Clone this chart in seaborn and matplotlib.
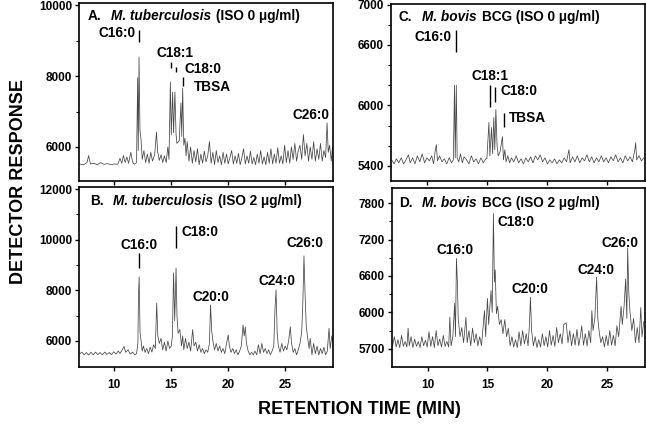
import matplotlib.pyplot as plt
import pandas as pd
import seaborn as sns
from matplotlib.offsetbox import AnchoredOffsetbox, HPacker, TextArea
from matplotlib.ticker import FixedLocator

# chromatogram traces: (retention time [min], detector response)
trace_a = [
    (6.95, 5520), (7.3, 5500), (7.6, 5560), (7.75, 5760), (7.9, 5520), (8.2, 5540), (8.5, 5500),
    (8.8, 5560), (9.1, 5510), (9.4, 5530), (9.7, 5500), (10.0, 5520), (10.3, 5510), (10.5, 5680),
    (10.65, 5540), (10.8, 5760), (10.95, 5560), (11.1, 5720), (11.25, 5540), (11.45, 5850),
    (11.6, 5580), (11.75, 5510), (11.95, 5560), (12.05, 7950), (12.1, 5900), (12.17, 8540),
    (12.25, 6480), (12.35, 6200), (12.45, 5650), (12.6, 5900), (12.75, 5560), (12.9, 5800),
    (13.05, 5540), (13.2, 5850), (13.35, 5600), (13.55, 5800), (13.7, 6420), (13.8, 5880),
    (13.95, 5620), (14.1, 5780), (14.25, 5560), (14.4, 5750), (14.55, 5560), (14.7, 6000),
    (14.8, 5650), (14.92, 7830), (15.0, 6340), (15.12, 7550), (15.2, 6400), (15.32, 7550),
    (15.42, 6350), (15.5, 6100), (15.7, 6180), (15.85, 7240), (15.92, 6300), (16.0, 7660),
    (16.1, 6050), (16.2, 6250), (16.3, 5750), (16.4, 6150), (16.55, 5600), (16.7, 6000),
    (16.85, 5540), (17.0, 5900), (17.15, 5580), (17.3, 5950), (17.45, 5500), (17.6, 5800),
    (17.75, 5540), (17.9, 5880), (18.05, 5580), (18.2, 5750), (18.35, 6150), (18.5, 5540),
    (18.65, 5850), (18.8, 5500), (18.95, 5900), (19.1, 5560), (19.25, 5750), (19.4, 5500),
    (19.55, 5850), (19.7, 5540), (19.85, 5800), (20.0, 5520), (20.15, 5700), (20.3, 5900),
    (20.45, 5520), (20.6, 5750), (20.75, 5540), (20.9, 5820), (21.05, 5500), (21.2, 5700),
    (21.35, 5950), (21.5, 5520), (21.65, 5750), (21.8, 5540), (21.95, 5880), (22.1, 5520),
    (22.25, 5700), (22.4, 5500), (22.55, 5800), (22.7, 5540), (22.85, 5900), (23.0, 5520),
    (23.15, 5720), (23.3, 5500), (23.45, 5850), (23.6, 5540), (23.75, 5950), (23.9, 5520),
    (24.05, 5800), (24.2, 5540), (24.35, 5980), (24.5, 5540), (24.65, 5750), (24.8, 5520),
    (24.95, 6050), (25.1, 5560), (25.25, 5900), (25.4, 5540), (25.55, 6000), (25.7, 5650),
    (25.85, 6100), (26.0, 5600), (26.15, 5900), (26.3, 6050), (26.45, 5650), (26.6, 6350),
    (26.75, 5750), (26.9, 6100), (27.05, 5600), (27.2, 6000), (27.35, 5650), (27.5, 6150),
    (27.65, 5600), (27.8, 5950), (27.95, 5650), (28.1, 6100), (28.25, 5600), (28.4, 5900),
    (28.55, 5700), (28.68, 6680), (28.78, 5850), (28.9, 6050), (29.05, 5600), (29.15, 6000),
]

trace_b = [
    (6.95, 5480), (7.15, 5560), (7.35, 5450), (7.55, 5540), (7.75, 5440), (7.95, 5550), (8.15, 5450),
    (8.35, 5560), (8.55, 5460), (8.75, 5540), (8.95, 5450), (9.15, 5560), (9.35, 5470), (9.55, 5540),
    (9.75, 5460), (9.95, 5570), (10.15, 5480), (10.35, 5600), (10.5, 5500), (10.7, 5650),
    (10.85, 5780), (11.0, 5550), (11.2, 5650), (11.4, 5480), (11.6, 5560), (11.8, 5450),
    (11.95, 5500), (12.07, 5900), (12.12, 7800), (12.18, 8530), (12.26, 6320), (12.35, 6000),
    (12.45, 5600), (12.55, 5800), (12.7, 5550), (12.85, 5700), (13.0, 5500), (13.15, 5750),
    (13.3, 5560), (13.45, 5850), (13.6, 5700), (13.72, 7500), (13.82, 6200), (13.95, 5900),
    (14.1, 6100), (14.25, 5650), (14.4, 5950), (14.55, 5600), (14.7, 6000), (14.85, 5700),
    (15.0, 5800), (15.1, 6200), (15.2, 8690), (15.3, 6800), (15.42, 8880), (15.5, 7000),
    (15.6, 6300), (15.75, 6450), (15.9, 5800), (16.0, 6200), (16.1, 5650), (16.25, 6100),
    (16.4, 5700), (16.55, 5950), (16.7, 5600), (16.88, 6450), (17.0, 5800), (17.15, 5950),
    (17.3, 5600), (17.45, 5850), (17.6, 5550), (17.75, 5700), (17.9, 5500), (18.05, 5650),
    (18.2, 5550), (18.35, 5900), (18.45, 7420), (18.55, 6400), (18.65, 6000), (18.8, 5650),
    (18.95, 5900), (19.1, 5600), (19.25, 5800), (19.4, 5550), (19.55, 5700), (19.7, 5500),
    (19.85, 5900), (20.0, 6240), (20.1, 5800), (20.25, 5550), (20.4, 5700), (20.55, 5500),
    (20.7, 5650), (20.85, 5450), (21.0, 5600), (21.15, 5800), (21.3, 6630), (21.4, 6200),
    (21.5, 6550), (21.6, 5900), (21.75, 5600), (21.9, 5450), (22.05, 5550), (22.2, 5450),
    (22.35, 5600), (22.5, 5450), (22.65, 5850), (22.8, 5500), (22.95, 5900), (23.1, 5550),
    (23.25, 5700), (23.4, 5500), (23.55, 5650), (23.7, 5450), (23.85, 5600), (24.0, 5800),
    (24.1, 7200), (24.2, 8020), (24.3, 6300), (24.4, 5800), (24.55, 5550), (24.7, 5900),
    (24.85, 5600), (25.0, 5800), (25.15, 5650), (25.3, 6000), (25.45, 6560), (25.55, 5950),
    (25.7, 5550), (25.85, 5700), (26.0, 5450), (26.15, 5650), (26.3, 5900), (26.45, 6350),
    (26.55, 7500), (26.65, 9360), (26.75, 7800), (26.85, 6600), (26.95, 6200), (27.1, 5700),
    (27.2, 6100), (27.35, 5450), (27.5, 5900), (27.65, 5500), (27.8, 5800), (27.95, 5450),
    (28.1, 5700), (28.25, 5500), (28.4, 5750), (28.55, 5450), (28.7, 5600), (28.85, 6500),
    (28.95, 5700), (29.1, 6200), (29.2, 6000),
]

trace_c = [
    (7.05, 5460), (7.25, 5420), (7.45, 5470), (7.65, 5430), (7.85, 5480), (8.05, 5420), (8.25, 5460),
    (8.45, 5510), (8.6, 5430), (8.8, 5480), (9.0, 5420), (9.2, 5500), (9.4, 5440), (9.6, 5520),
    (9.8, 5430), (10.0, 5480), (10.2, 5450), (10.4, 5500), (10.55, 5420), (10.7, 5560),
    (10.78, 5610), (10.88, 5450), (11.05, 5500), (11.25, 5440), (11.45, 5470), (11.65, 5420),
    (11.85, 5480), (12.05, 5430), (12.2, 5460), (12.3, 6200), (12.36, 5480), (12.45, 6200),
    (12.52, 5480), (12.65, 5440), (12.8, 5520), (12.95, 5430), (13.1, 5490), (13.3, 5460),
    (13.5, 5420), (13.7, 5500), (13.9, 5440), (14.1, 5470), (14.3, 5420), (14.5, 5480),
    (14.7, 5430), (14.9, 5470), (15.0, 5470), (15.17, 5830), (15.25, 5500), (15.39, 5780),
    (15.48, 5520), (15.58, 5880), (15.66, 5560), (15.75, 5960), (15.85, 5600), (15.95, 5500),
    (16.1, 5540), (16.3, 5690), (16.38, 5460), (16.5, 5560), (16.6, 5440), (16.75, 5500),
    (16.9, 5430), (17.05, 5480), (17.25, 5440), (17.45, 5500), (17.65, 5430), (17.85, 5470),
    (18.05, 5420), (18.25, 5480), (18.45, 5440), (18.65, 5490), (18.85, 5430), (19.05, 5500),
    (19.25, 5460), (19.45, 5510), (19.65, 5440), (19.85, 5480), (20.05, 5420), (20.25, 5460),
    (20.45, 5430), (20.65, 5470), (20.85, 5420), (21.05, 5460), (21.25, 5430), (21.45, 5480),
    (21.65, 5440), (21.85, 5560), (21.95, 5430), (22.15, 5490), (22.35, 5440), (22.55, 5500),
    (22.75, 5430), (22.95, 5480), (23.15, 5450), (23.35, 5510), (23.55, 5440), (23.75, 5490),
    (23.95, 5430), (24.15, 5480), (24.35, 5440), (24.55, 5500), (24.75, 5440), (24.95, 5480),
    (25.15, 5430), (25.35, 5490), (25.55, 5450), (25.75, 5510), (25.95, 5440), (26.15, 5480),
    (26.35, 5430), (26.55, 5500), (26.75, 5450), (26.95, 5490), (27.15, 5440), (27.35, 5560),
    (27.42, 5630), (27.5, 5460), (27.7, 5500), (27.9, 5450), (28.1, 5480),
]

trace_d = [
    (7.05, 5450), (7.2, 5600), (7.35, 5430), (7.5, 5550), (7.65, 5420), (7.8, 5620), (7.95, 5440),
    (8.1, 5520), (8.25, 5430), (8.35, 5740), (8.45, 5450), (8.6, 5600), (8.75, 5420), (8.9, 5560),
    (9.05, 5440), (9.2, 5520), (9.35, 5420), (9.5, 5600), (9.65, 5450), (9.8, 5540), (9.95, 5430),
    (10.1, 5680), (10.25, 5440), (10.4, 5600), (10.55, 5420), (10.7, 5700), (10.85, 5450),
    (11.0, 5560), (11.15, 5430), (11.3, 5620), (11.45, 5440), (11.6, 5520), (11.75, 5430),
    (11.85, 5920), (11.95, 5450), (12.1, 5600), (12.25, 6150), (12.32, 5600), (12.4, 6890),
    (12.48, 6500), (12.55, 5900), (12.7, 5600), (12.85, 5750), (13.0, 5500), (13.2, 5920),
    (13.3, 5500), (13.45, 5700), (13.6, 5450), (13.75, 5740), (13.9, 5500), (14.05, 5650),
    (14.2, 5450), (14.35, 5600), (14.5, 5450), (14.65, 5800), (14.75, 6030), (14.85, 5600),
    (15.0, 6230), (15.1, 5800), (15.3, 6360), (15.4, 6000), (15.5, 7630), (15.58, 6500),
    (15.65, 6700), (15.75, 5980), (15.85, 6100), (16.0, 5800), (16.15, 5880), (16.3, 5650),
    (16.45, 5880), (16.6, 5600), (16.75, 5740), (16.9, 5450), (17.05, 5600), (17.2, 5430),
    (17.35, 5550), (17.5, 5420), (17.65, 5680), (17.8, 5450), (17.95, 5700), (18.1, 5480),
    (18.25, 5650), (18.4, 5450), (18.52, 5800), (18.6, 6250), (18.7, 5700), (18.85, 5450),
    (19.0, 5600), (19.15, 5420), (19.3, 5550), (19.45, 5430), (19.6, 5650), (19.75, 5450),
    (19.9, 5600), (20.05, 5430), (20.2, 5700), (20.35, 5460), (20.5, 5620), (20.65, 5440),
    (20.8, 5750), (20.95, 5500), (21.1, 5650), (21.25, 5480), (21.4, 5800), (21.6, 5830),
    (21.75, 5500), (21.9, 5700), (22.05, 5450), (22.2, 5650), (22.35, 5460), (22.5, 5720),
    (22.65, 5450), (22.8, 5620), (22.9, 5780), (23.05, 5460), (23.2, 5650), (23.35, 5450),
    (23.5, 5700), (23.65, 5500), (23.75, 6030), (23.85, 5700), (24.0, 5900), (24.15, 6580),
    (24.25, 5900), (24.35, 5700), (24.5, 5500), (24.65, 5600), (24.8, 5430), (24.95, 5620),
    (25.1, 5450), (25.25, 5700), (25.4, 5460), (25.55, 5620), (25.7, 5450), (25.85, 5780),
    (26.0, 5600), (26.2, 6100), (26.3, 5800), (26.45, 6100), (26.58, 6550), (26.68, 5900),
    (26.75, 7060), (26.85, 6300), (26.95, 6000), (27.1, 5700), (27.25, 5900), (27.4, 5500),
    (27.55, 5750), (27.7, 5500), (27.85, 6080), (27.95, 5600), (28.1, 5850),
]

# y tick values and the labels printed beside them
a_yticks = [6000, 8000, 10000]
b_yticks = [6000, 8000, 10000, 12000]
c_yticks = [5400, 6000, 6600, 7000]
d_yticks = [5400, 6000, 6600, 7200, 7800]
d_ylabels = ["5700", "6000", "6600", "7200", "7800"]
x_ticks = [10, 15, 20, 25]

# peak names per panel
a_peaks = ["C16:0", "C18:1", "C18:0", "TBSA", "C26:0"]
b_peaks = ["C16:0", "C18:0", "C20:0", "C24:0", "C26:0"]
c_peaks = ["C16:0", "C18:1", "C18:0", "TBSA"]
d_peaks = ["C16:0", "C18:0", "C20:0", "C24:0", "C26:0"]

panels = [
    dict(trace=trace_a, rect=[0.1223, 0.5751, 0.3932, 0.4178], xlim=(6.9, 29.2), ylim=(5040, 10060),
         yticks=a_yticks, ylabels=None, minor=[7000, 9000], top=True,
         title=[("A.", "normal"), ("M. tuberculosis", "italic"), ("(ISO 0 \u03bcg/ml)", "normal")],
         title_xy=(0.035, 0.965), peaks=a_peaks,
         peak_xy=[(11.82, 9211, "right"), (15.37, 8648, "center"), (16.12, 8197, "left"),
                  (17.0, 7690, "left"), (27.27, 6901, "center")],
         ticks=[(12.17, 8958, 9296), (14.98, 8225, 8394), (15.42, 8113, 8254), (16.03, 7718, 7972)]),
    dict(trace=trace_b, rect=[0.1223, 0.1385, 0.3932, 0.4225], xlim=(6.9, 29.2), ylim=(4970, 12080),
         yticks=b_yticks, ylabels=None, minor=[7000, 9000, 11000], top=False,
         title=[("B.", "normal"), ("M. tuberculosis", "italic"), ("(ISO 2 \u03bcg/ml)", "normal")],
         title_xy=(0.043, 0.96), peaks=b_peaks,
         peak_xy=[(12.17, 9790, "center"), (15.94, 10304, "left"), (18.49, 7740, "center"),
                  (24.24, 8371, "center"), (26.74, 9870, "center")],
         ticks=[(12.17, 8884, 9475), (15.42, 9672, 10540)]),
    dict(trace=trace_c, rect=[0.6053, 0.5751, 0.3932, 0.4155], xlim=(7.0, 28.2), ylim=(5250, 7005),
         yticks=c_yticks, ylabels=None, minor=[5600, 5800, 6200, 6400, 6800], top=True,
         title=[("C.", "normal"), ("M. bovis", "italic"), ("BCG (ISO 0 \u03bcg/ml)", "normal")],
         title_xy=(0.031, 0.965), peaks=c_peaks,
         peak_xy=[(12.08, 6677, "right"), (15.25, 6291, "center"), (16.17, 6143, "left"),
                  (16.83, 5875, "left")],
         ticks=[(12.42, 6529, 6747), (15.3, 5984, 6202), (15.67, 6034, 6182), (16.42, 5786, 5925)]),
    dict(trace=trace_d, rect=[0.6068, 0.1385, 0.3916, 0.4202], xlim=(7.0, 28.2), ylim=(5100, 8050),
         yticks=d_yticks, ylabels=d_ylabels, minor=[5700, 6300, 6900, 7500], top=False,
         title=[("D.", "normal"), ("M. bovis", "italic"), ("BCG (ISO 2 \u03bcg/ml)", "normal")],
         title_xy=(0.028, 0.955), peaks=d_peaks,
         peak_xy=[(12.29, 7024, "center"), (15.83, 7486, "left"), (18.58, 6381, "center"),
                  (24.13, 6694, "center"), (26.13, 7140, "center")],
         ticks=[]),
]

sns.set_style("ticks")
plt.rcParams["font.family"] = ["Liberation Sans", "DejaVu Sans"]
plt.rcParams["font.weight"] = "bold"
plt.rcParams["axes.linewidth"] = 1.2
plt.rcParams["text.color"] = "black"
plt.rcParams["xtick.color"] = "black"
plt.rcParams["ytick.color"] = "black"

fig = plt.figure(figsize=(6.46, 4.26), dpi=100)

for p in panels:
    ax = fig.add_axes(p["rect"])
    df = pd.DataFrame(p["trace"], columns=["time", "response"])
    sns.lineplot(data=df, x="time", y="response", ax=ax, color="#474747",
                 linewidth=0.55, estimator=None, sort=False)

    ax.set_xlim(*p["xlim"])
    ax.set_ylim(*p["ylim"])
    ax.set_xticks(x_ticks)
    if p["ylabels"] is None:
        ax.set_yticks(p["yticks"])
    else:
        ax.set_yticks(p["yticks"], labels=p["ylabels"])
    ax.yaxis.set_minor_locator(FixedLocator(p["minor"]))
    ax.set_xlabel("")
    ax.set_ylabel("")
    ax.tick_params(which="major", direction="out", length=3, width=1, labelsize=8.5, pad=2,
                   colors="black")
    ax.tick_params(which="minor", direction="out", length=2, width=0.8, colors="black")
    ax.tick_params(axis="x", pad=6)
    if p["top"]:
        ax.tick_params(axis="x", labelbottom=False)
    for sp in ax.spines.values():
        sp.set_visible(True)
        sp.set_color("black")

    props = [dict(fontsize=9.8, fontweight="bold", fontstyle=st, color="black") for _, st in p["title"]]
    letter = TextArea(p["title"][0][0], textprops=props[0])
    rest = HPacker(children=[TextArea(p["title"][1][0], textprops=props[1]),
                             TextArea(p["title"][2][0], textprops=props[2])],
                   align="baseline", pad=0, sep=3.5)
    pack = HPacker(children=[letter, rest], align="baseline", pad=0, sep=7)
    anchored = AnchoredOffsetbox(loc="upper left", child=pack, pad=0, borderpad=0, frameon=False,
                                 bbox_to_anchor=p["title_xy"], bbox_transform=ax.transAxes)
    ax.add_artist(anchored)

    for name, (x, y, ha) in zip(p["peaks"], p["peak_xy"]):
        ax.text(x, y, name, ha=ha, va="center", fontsize=9.8, fontweight="bold")
    for x, y0, y1 in p["ticks"]:
        ax.vlines(x, y0, y1, color="black", linewidth=1)

fig.text(0.028, 0.573, "DETECTOR RESPONSE", rotation=90, ha="center", va="center",
         fontsize=13, fontweight="bold")
fig.text(0.556, 0.038, "RETENTION TIME (MIN)", ha="center", va="center",
         fontsize=13, fontweight="bold")

fig.savefig("out.png", dpi=100)
